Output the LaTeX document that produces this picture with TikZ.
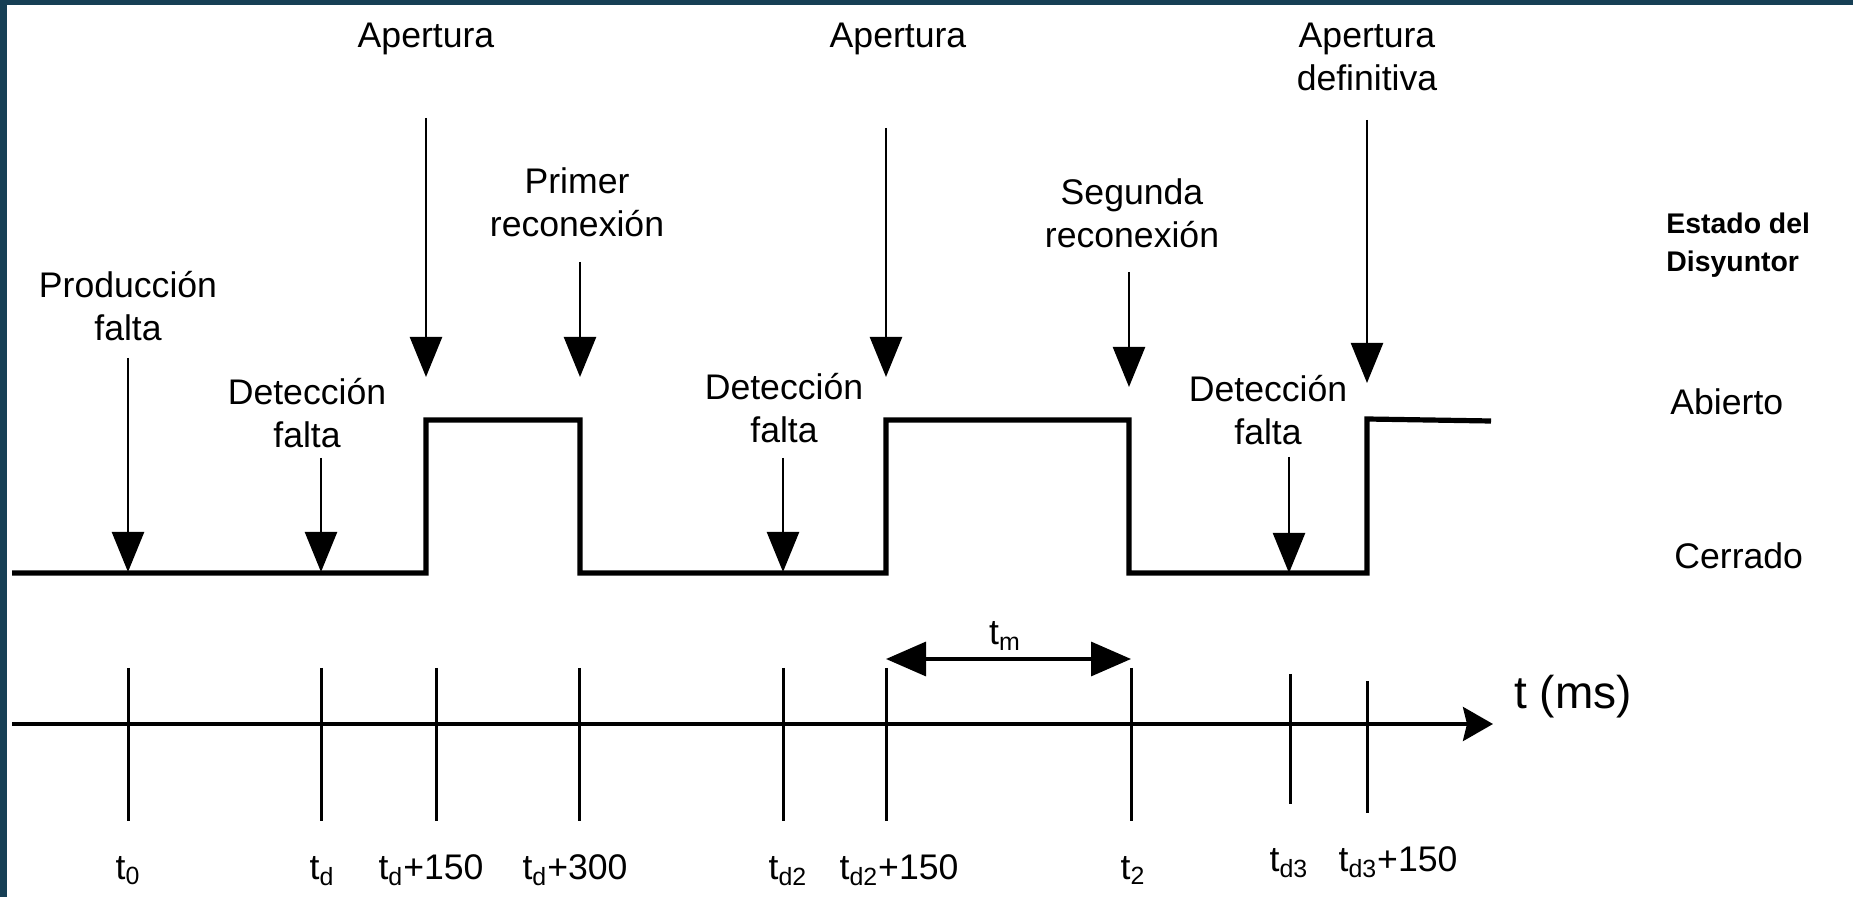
\documentclass[tikz,border=0pt]{standalone}
\usepackage{fontspec}
\setmainfont{Liberation Sans}
\usetikzlibrary{arrows.meta,positioning}
\definecolor{frame-dark}{HTML}{163F55}
\definecolor{frame-light}{HTML}{2B6668}
\tikzset{
    event-arrow/.style = {line width=1.2pt, -{Triangle[width=16pt,length=20pt]}},
    wave-line/.style = {line width=2.6pt, line join=miter},
    tick-line/.style = {line width=1.5pt},
    time-axis/.style = {line width=1.8pt, -{Stealth[width=17pt,length=15pt,inset=2pt]}},
    span-arrow/.style = {line width=1.7pt, {Triangle[width=17pt,length=20pt]}-{Triangle[width=17pt,length=20pt]}},
    event-label/.style = {align=center, inner sep=0pt, anchor=base, font=\fontsize{17.8}{21.5}\selectfont},
    state-label/.style = {inner sep=0pt, anchor=base west, font=\fontsize{17.8}{21.5}\selectfont},
    state-title/.style = {align=left, inner sep=0pt, anchor=base west, font=\fontsize{14.2}{19}\selectfont\bfseries},
    tick-label/.style = {inner sep=0pt, anchor=base, font=\fontsize{17.8}{21.5}\selectfont},
}

\begin{document}
\begin{tikzpicture}[x=0.5pt,y=-0.5pt]
\useasboundingbox (0,0) rectangle (1853,897);
\shade[left color=frame-dark, middle color=frame-light, right color=frame-dark] (0,0) rectangle (1853,5);
\fill[frame-dark] (0,0) rectangle (7,897);

\draw[wave-line] (12,573) -- (426,573) -- (426,420) -- (580,420) -- (580,573) -- (886,573) -- (886,420)
    -- (1129,420) -- (1129,573) -- (1367,573) -- (1367,419) -- (1491,421);

\coordinate (axis-start) at (12,724);
\coordinate (axis-end) at (1493,724);
\draw[time-axis] (axis-start) -- (axis-end);
\node[state-label, font=\fontsize{23}{27}\selectfont] (axis-name) at (1514,709) {t (ms)};

\foreach \name/\x/\top/\bot/\lx/\ly/\txt in {
    t0/128/668/821/128/879/t\textsubscript{0},
    td/321/668/821/322/879/t\textsubscript{d},
    td-open/436/668/821/431/879/t\textsubscript{d}+150,
    td-close/579/668/821/575/879/t\textsubscript{d}+300,
    td2/783/668/821/788/879/t\textsubscript{d2},
    td2-open/886/668/821/899/879/t\textsubscript{d2}+150,
    t2/1131/668/821/1133/879/t\textsubscript{2},
    td3/1290/674/804/1289/871/t\textsubscript{d3},
    td3-open/1367/681/813/1398/871/t\textsubscript{d3}+150}{
    \coordinate (\name-top) at (\x,\top);
    \coordinate (\name-bot) at (\x,\bot);
    \draw[tick-line] (\name-top) -- (\name-bot);
    \node[tick-label] (\name-label) at (\lx,\ly) {\txt};
}

\coordinate (tm-start) at (886,659);
\coordinate (tm-end) at (1131,659);
\draw[span-arrow] (tm-start) -- (tm-end);
\node[tick-label] (tm-label) at (1005,645) {t\textsubscript{m}};

\foreach \name/\lx/\ly/\txt/\x/\from/\to in {
    fault/128/341/Producci\'on\\falta/128/358/572,
    detect-a/307/448/Detecci\'on\\falta/321/458/572,
    open-a/426/48/Apertura/426/118/377,
    reclose-a/577/237/Primer\\reconexi\'on/580/262/377,
    detect-b/784/443/Detecci\'on\\falta/783/458/572,
    open-b/898/48/Apertura/886/128/377,
    reclose-b/1132/248/Segunda\\reconexi\'on/1129/272/387,
    detect-c/1268/445/Detecci\'on\\falta/1289/457/573,
    open-final/1367/91/Apertura\\definitiva/1367/120/383}{
    \node[event-label] (\name) at (\lx,\ly) {\txt};
    \coordinate (\name-from) at (\x,\from);
    \coordinate (\name-to) at (\x,\to);
    \draw[event-arrow] (\name-from) -- (\name-to);
}

\node[state-title] (breaker) at (1666,272) {Estado del\\Disyuntor};
\node[state-label] (open-state) at (1670,415) {Abierto};
\node[state-label] (closed-state) at (1674,569) {Cerrado};
\end{tikzpicture}
\end{document}
